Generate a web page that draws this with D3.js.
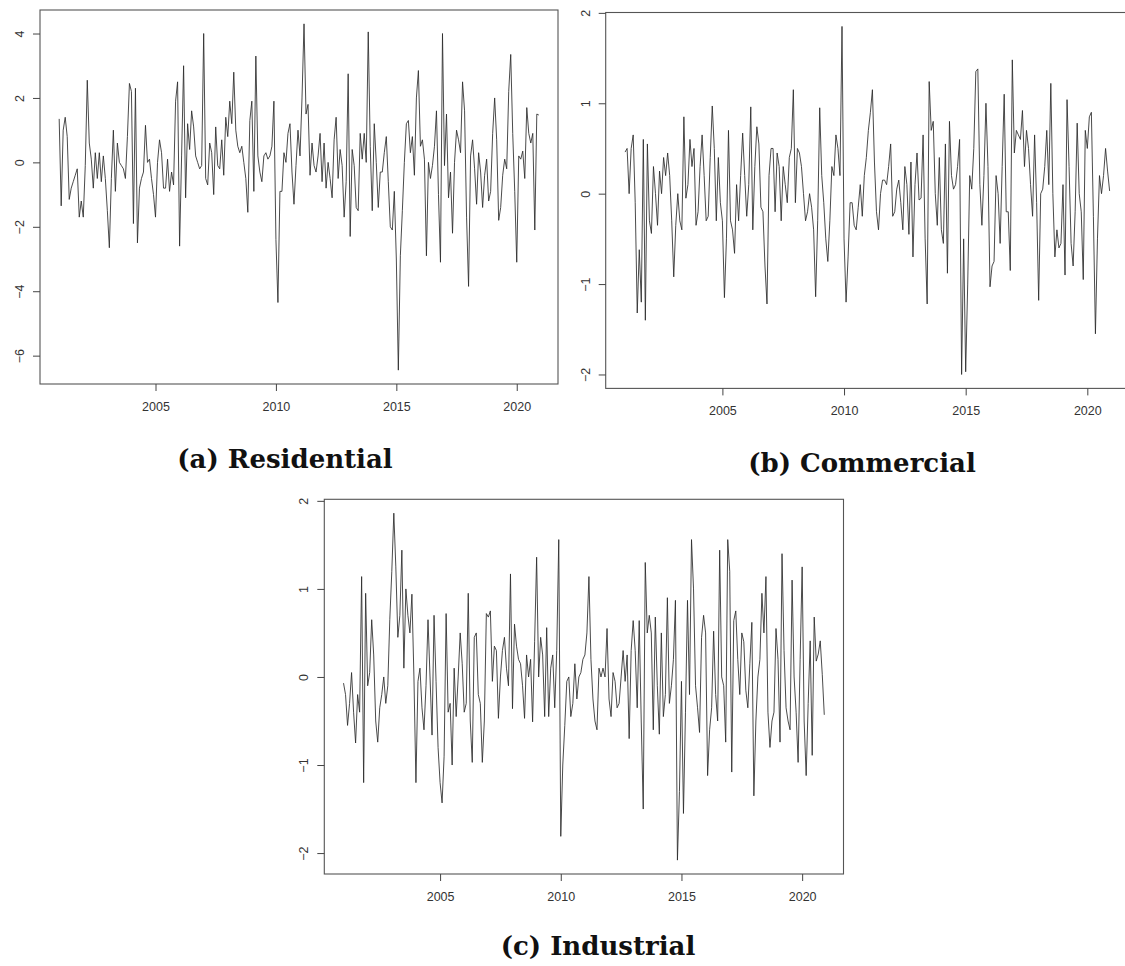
<!DOCTYPE html>
<html>
<head>
<meta charset="utf-8">
<script src="https://cdn.jsdelivr.net/npm/d3@7"></script>
<style>
  html, body { margin: 0; padding: 0; background: #ffffff; }
  svg { display: block; }
</style>
</head>
<body>
<svg id="chart" width="1125" height="966"></svg>
<script>
// ---------------- data (monthly, Jan 2001 .. Dec 2020) ----------------
const startYear = 2001;
const xTickYears = [2005, 2010, 2015, 2020];

const residential = [
  1.35, -1.35, 1.0, 1.4, 0.8, -1.15, -0.8, -0.6, -0.4, -0.2, -1.7, -1.2,
  -1.7, -0.1, 2.55, 0.6, 0.1, -0.8, 0.3, -0.5, 0.3, -0.6, 0.2, -0.5,
  -1.5, -2.65, -0.5, 1.0, -0.9, 0.6, 0.0, -0.1, -0.2, -0.5, 0.8, 2.45,
  2.2, -1.9, 2.3, -2.5, -0.8, -0.5, -0.3, 1.15, 0.0, 0.1, -0.5, -1.0,
  -1.7, 0.0, 0.7, 0.3, -0.8, -0.8, 0.1, -0.9, -0.3, -0.7, 1.9, 2.5,
  -2.6, 0.2, 3.0, -1.1, 1.2, 0.4, 1.6, 1.1, 0.2, 0.0, -0.2, -0.1,
  4.0, -0.5, -0.7, 0.6, 0.3, -1.0, 1.1, -0.1, -0.2, 0.7, -0.4, 1.4,
  0.8, 1.9, 1.2, 2.8, 1.0, 0.5, 0.3, 0.5, 0.0, -0.5, -1.55, 1.3,
  1.9, -0.9, 3.3, 0.2, -0.3, -0.6, 0.2, 0.3, 0.1, 0.2, 0.5, 1.9,
  -2.4, -4.35, -0.9, -0.9, 0.3, 0.0, 0.9, 1.2, -0.3, -1.3, -0.1, 1.0,
  0.2, 2.0, 4.3, 1.5, 1.8, -0.4, 0.6, -0.1, -0.3, 0.2, 0.9, -0.6,
  0.6, -0.8, 0.0, -0.5, -1.1, 0.7, 1.4, -0.5, 0.4, -0.1, -1.7, -0.6,
  2.75, -2.3, 0.4, -0.1, -1.4, -1.5, 0.9, 0.1, 0.9, 0.0, 4.05, 0.5,
  -1.5, 1.2, 0.0, -1.4, -0.3, -0.3, 0.3, 0.8, -0.6, -2.0, -2.1, -0.9,
  -3.0, -6.45, -2.9, -1.5, 0.0, 1.2, 1.3, 0.3, 0.8, -0.4, 2.0, 2.85,
  0.5, 0.7, 0.1, -2.9, 0.0, -0.5, -0.1, 0.5, 1.6, -1.0, -3.1, 4.0,
  -0.1, 1.5, -1.1, -0.3, -2.2, 0.0, 1.0, 0.7, 0.3, 2.5, 1.6, -1.7,
  -3.85, 0.2, 0.7, -0.2, -1.3, 0.3, -0.3, -1.4, -0.4, 0.1, -1.2, -0.9,
  0.9, 2.0, 0.7, -1.8, -1.4, -0.4, 0.1, -0.2, 2.2, 3.35, 0.9, -0.9,
  -3.1, 0.2, 0.1, 0.35, -0.5, 1.7, 0.9, 0.6, 0.9, -2.1, 1.5, 1.47
];

const commercial = [
  0.46, 0.5, 0.0, 0.5, 0.65, -0.1, -1.32, -0.62, -1.2, 0.6, -1.4, 0.55,
  -0.3, -0.44, 0.3, 0.0, -0.35, 0.25, 0.0, 0.4, 0.2, 0.45, 0.2, -0.3,
  -0.92, -0.35, 0.0, -0.3, -0.4, 0.85, -0.05, 0.1, 0.6, 0.3, 0.5, -0.35,
  -0.2, 0.3, 0.65, 0.2, -0.3, -0.25, 0.4, 0.97, 0.5, -0.3, 0.4, -0.1,
  -0.3, -1.15, -0.5, 0.7, -0.3, -0.4, -0.66, 0.1, -0.3, 0.2, 0.67, 0.2,
  -0.25, 0.1, 0.96, -0.4, 0.3, 0.74, 0.55, -0.15, -0.2, -0.8, -1.22, 0.2,
  0.5, 0.5, -0.2, 0.45, 0.3, -0.3, 0.3, 0.1, -0.1, 0.4, 0.5, 1.15,
  -0.1, 0.5, 0.45, 0.3, 0.0, -0.3, -0.2, 0.0, -0.15, -0.4, -1.14, -0.3,
  0.95, 0.2, -0.1, -0.5, -0.75, -0.3, 0.3, 0.2, 0.65, 0.5, 0.2, 1.85,
  -0.5, -1.2, -0.7, -0.1, -0.1, -0.35, -0.4, -0.15, 0.1, -0.25, 0.2, 0.4,
  0.7, 0.9, 1.15, 0.35, -0.2, -0.4, 0.0, 0.15, 0.15, 0.1, 0.3, 0.55,
  -0.25, -0.2, 0.05, 0.15, -0.1, -0.4, 0.3, 0.1, -0.45, 0.35, -0.7, 0.1,
  0.45, -0.07, -0.05, 0.65, -0.5, -1.22, 1.24, 0.7, 0.8, 0.0, -0.35, 0.4,
  -0.4, -0.55, 0.55, -0.88, 0.8, 0.2, 0.05, 0.1, 0.3, 0.6, -2.0, -0.5,
  -1.97, -1.0, 0.2, 0.05, 0.5, 1.35, 1.38, 0.1, -0.35, 0.2, 1.0, 0.3,
  -1.03, -0.8, -0.75, 0.2, 0.0, -0.55, 0.3, 1.1, -0.2, -0.2, -0.85, 1.48,
  0.45, 0.7, 0.65, 0.6, 0.92, 0.3, 0.7, 0.5, 0.1, -0.25, 0.65, -0.1,
  -1.18, 0.0, 0.05, 0.3, 0.7, 0.1, 1.22, 0.0, -0.7, -0.4, -0.6, -0.55,
  0.1, -0.9, 1.04, 0.3, -0.55, -0.8, -0.2, 0.78, 0.0, -0.2, -0.95, 0.7,
  0.5, 0.85, 0.9, -0.25, -1.55, -0.5, 0.2, 0.0, 0.2, 0.5, 0.25, 0.03
];

const industrial = [
  -0.07, -0.2, -0.55, -0.3, 0.05, -0.4, -0.75, -0.2, -0.4, 1.14, -1.2, 0.95,
  -0.1, 0.05, 0.65, 0.25, -0.5, -0.74, -0.35, -0.2, 0.0, -0.3, -0.1, 0.65,
  1.2, 1.86, 1.25, 0.45, 0.7, 1.44, 0.1, 1.0, 0.7, 0.5, 0.94, 0.0,
  -1.2, -0.05, 0.1, -0.35, -0.6, -0.1, 0.65, 0.0, -0.66, 0.7, -0.05, -0.8,
  -1.2, -1.43, -0.9, 0.72, -0.4, -0.3, -1.0, 0.1, -0.45, 0.0, 0.5, 0.15,
  -0.4, -0.3, 0.95, -0.5, -0.97, 0.45, 0.5, -0.2, -0.3, -0.97, -0.5, 0.72,
  0.68, 0.75, -0.05, 0.35, 0.3, -0.47, 0.0, 0.3, 0.45, 0.1, -0.1, 1.17,
  -0.36, 0.6, 0.35, 0.2, 0.15, -0.1, -0.47, 0.25, 0.0, 0.2, -0.51, 0.4,
  1.36, 0.0, 0.45, 0.25, -0.45, 0.56, -0.45, 0.1, 0.25, -0.35, 0.3, 1.56,
  -1.81, -1.0, -0.55, -0.05, 0.0, -0.45, -0.3, 0.15, -0.25, 0.0, 0.05, 0.2,
  0.25, 0.5, 1.14, 0.2, -0.25, -0.5, -0.6, 0.1, 0.0, 0.1, 0.0, 0.55,
  -0.25, -0.45, 0.05, -0.05, -0.35, -0.3, 0.0, 0.3, -0.05, 0.25, -0.7, 0.3,
  0.64, 0.3, -0.35, 0.64, -0.5, -1.5, 1.3, 0.5, 0.7, 0.5, -0.6, 0.68,
  -0.1, -0.65, 0.5, -0.45, -0.2, 0.9, -0.3, -0.1, 0.2, 0.87, -2.08, -1.3,
  -0.05, -1.55, -0.4, 0.87, -0.2, 1.56, 1.0, -0.1, -0.35, -0.63, 0.45, 0.7,
  0.5, -1.12, -0.6, -0.35, 0.52, -0.2, -0.5, 1.44, 0.0, -0.1, -0.74, 1.56,
  1.2, -1.08, 0.64, 0.75, 0.2, -0.2, 0.5, 0.4, -0.15, -0.35, 0.15, 0.62,
  -1.35, -0.5, 0.0, 0.2, 0.95, 0.5, 1.14, -0.4, -0.8, -0.5, -0.4, 0.55,
  0.2, -0.74, 1.4, 0.3, -0.35, -0.5, -0.6, 1.1, 0.0, -0.4, -0.97, 0.2,
  1.25, -0.5, -1.12, -0.3, 0.41, -0.89, 0.68, 0.18, 0.26, 0.41, 0.03, -0.43
];

const residentialTicks = [-6, -4, -2, 0, 2, 4];
const commercialTicks = [-2, -1, 0, 1, 2];
const industrialTicks = [-2, -1, 0, 1, 2];

const captionA = "(a) Residential";
const captionB = "(b) Commercial";
const captionC = "(c) Industrial";

// ---------------- drawing ----------------
const svg = d3.select("#chart");
svg.append("rect").attr("width", 1125).attr("height", 966).attr("fill", "#fff");

function panel(opts) {
  const { values, yTicks, left, right, top, bottom, caption, capX, capY } = opts;
  const g = svg.append("g");
  const n = values.length;
  const t0 = startYear, t1 = startYear + (n - 1) / 12;
  const xr = (t1 - t0) * 0.04;
  const x = d3.scaleLinear().domain([t0 - xr, t1 + xr]).range([left, right]);
  const ext = d3.extent(values);
  const yr = (ext[1] - ext[0]) * 0.04;
  const y = d3.scaleLinear().domain([ext[0] - yr, ext[1] + yr]).range([bottom, top]);

  // series line
  const line = d3.line()
    .x((d, i) => x(t0 + i / 12))
    .y(d => y(d));
  g.append("path")
    .datum(values)
    .attr("d", line)
    .attr("fill", "none")
    .attr("stroke", "#2a2a2a")
    .attr("stroke-width", 0.85)
    .attr("stroke-linejoin", "round");

  // box
  g.append("rect")
    .attr("x", left).attr("y", top)
    .attr("width", right - left).attr("height", bottom - top)
    .attr("fill", "none").attr("stroke", "#555").attr("stroke-width", 1.1);

  // x axis
  const xa = g.append("g").attr("transform", `translate(0,${bottom})`)
    .call(d3.axisBottom(x).tickValues(xTickYears).tickFormat(d3.format("d"))
      .tickSize(7).tickPadding(11).tickSizeOuter(0));
  xa.select(".domain").remove();
  xa.selectAll(".tick line").attr("stroke", "#444");
  xa.selectAll("text").attr("font-family", "Liberation Sans, Arial, sans-serif")
    .attr("font-size", 12.5).attr("fill", "#333");

  // y axis (labels parallel to the axis, as in R)
  const ya = g.append("g").attr("transform", `translate(${left},0)`)
    .call(d3.axisLeft(y).tickValues(yTicks).tickFormat(d3.format("d"))
      .tickSize(7).tickSizeOuter(0));
  ya.select(".domain").remove();
  ya.selectAll(".tick line").attr("stroke", "#444");
  ya.selectAll(".tick text")
    .attr("x", 0).attr("y", 0).attr("dy", 0)
    .attr("text-anchor", "middle")
    .attr("transform", "translate(-16,0) rotate(-90)")
    .attr("font-family", "Liberation Sans, Arial, sans-serif")
    .attr("font-size", 12.5).attr("fill", "#333");

  // caption
  svg.append("text")
    .attr("x", capX).attr("y", capY)
    .attr("text-anchor", "middle")
    .attr("font-family", "DejaVu Serif, serif")
    .attr("font-weight", "bold")
    .attr("font-size", 26)
    .attr("fill", "#111")
    .text(caption);
}

panel({ values: residential, yTicks: residentialTicks, left: 40, right: 558, top: 10, bottom: 384,
        caption: captionA, capX: 285, capY: 468 });
panel({ values: commercial, yTicks: commercialTicks, left: 605.7, right: 1129, top: 12.5, bottom: 388.4,
        caption: captionB, capX: 862, capY: 472 });
panel({ values: industrial, yTicks: industrialTicks, left: 324.3, right: 843.5, top: 499.3, bottom: 874,
        caption: captionC, capX: 598, capY: 955 });
</script>
</body>
</html>
